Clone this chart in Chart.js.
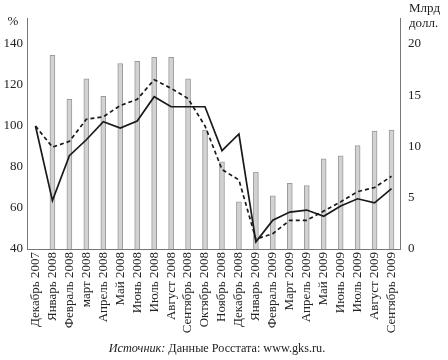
<!DOCTYPE html>
<html>
<head>
<meta charset="utf-8">
<script src="https://cdn.jsdelivr.net/npm/chart.js@4.4.1/dist/chart.umd.min.js"></script>
<style>
  html, body { margin: 0; padding: 0; background: #fff; }
  #wrap { width: 448px; height: 360px; }
</style>
</head>
<body>
<div id="wrap"><canvas id="chart" width="448" height="360"></canvas></div>
<script>
const months = ['Декабрь 2007', 'Январь 2008', 'Февраль 2008', 'март 2008', 'Апрель 2008', 'Май 2008',
  'Июнь 2008', 'Июль 2008', 'Август 2008', 'Сентябрь 2008', 'Октябрь 2008', 'Ноябрь 2008',
  'Декабрь 2008', 'Январь 2009', 'Февраль 2009', 'Март 2009', 'Апрель 2009', 'Май 2009',
  'Июнь 2009', 'Июль 2009', 'Август 2009', 'Сентябрь 2009']

// bars, billion dollars (right axis)
const barValues = [null, 18.9, 14.6, 16.6, 14.9, 18.1, 18.3, 18.7, 18.7, 16.6, 11.6, 8.5,
  4.6, 7.5, 5.2, 6.4, 6.2, 8.8, 9.1, 10.1, 11.5, 11.6]

// lines, percent (left axis)
const solidValues = [100, 63.6, 85.5, 93.3, 102.1, 99, 102.4, 114.3, 109.4, 109.4, 109.4, 88,
  96.1, 43.5, 54, 58, 59, 56, 61, 64.5, 62.5, 69.5]
const dashedValues = [100, 89.7, 92.5, 103.3, 104.5, 110, 113, 122.6, 118.4, 113.4, 100, 78.8,
  73.7, 44.8, 47.5, 54, 54, 58.5, 63, 68, 70, 75.5]

const leftTicks = [40, 60, 80, 100, 120, 140]
const rightTicks = [0, 5, 10, 15, 20]

const FONT = "'Liberation Serif', 'DejaVu Serif', serif"
const AXIS = '#777'
const TEXT = '#222'

// extra captions: units and source line
const captions = {
  id: 'captions',
  afterDraw(chart) {
    const ctx = chart.ctx
    ctx.save()
    ctx.fillStyle = TEXT
    ctx.textBaseline = 'middle'
    ctx.font = '13px ' + FONT
    ctx.textAlign = 'center'
    ctx.fillText('%', 13, 22)
    ctx.textAlign = 'left'
    ctx.fillText('Млрд', 409, 9)
    ctx.fillText('долл.', 409, 24)

    const italic = 'Источник:'
    const rest = ' Данные Росстата: www.gks.ru.'
    ctx.font = 'italic 12.2px ' + FONT
    const w1 = ctx.measureText(italic).width
    ctx.font = '12.2px ' + FONT
    const w2 = ctx.measureText(rest).width
    const x0 = 217 - (w1 + w2) / 2
    ctx.font = 'italic 12.2px ' + FONT
    ctx.fillText(italic, x0, 349)
    ctx.font = '12.2px ' + FONT
    ctx.fillText(rest, x0 + w1, 349)
    ctx.restore()
  }
}

new Chart(document.getElementById('chart'), {
  data: {
    labels: months,
    datasets: [
      {
        type: 'line',
        data: solidValues,
        yAxisID: 'y',
        borderColor: '#1a1a1a',
        borderWidth: 1.7,
        pointRadius: 0,
        tension: 0,
        order: 0
      },
      {
        type: 'line',
        data: dashedValues,
        yAxisID: 'y',
        borderColor: '#1a1a1a',
        borderWidth: 1.7,
        borderDash: [4, 3],
        pointRadius: 0,
        tension: 0,
        order: 0
      },
      {
        type: 'bar',
        data: barValues,
        yAxisID: 'y1',
        backgroundColor: '#d2d2d2',
        borderColor: '#9a9a9a',
        borderWidth: 1,
        barThickness: 5,
        order: 1
      }
    ]
  },
  options: {
    responsive: false,
    animation: false,
    events: [],
    layout: { padding: { top: 18, left: 0, right: 0, bottom: 0 } },
    plugins: {
      legend: { display: false },
      tooltip: { enabled: false }
    },
    scales: {
      x: {
        offset: true,
        grid: { display: false, drawTicks: false },
        border: { display: true, color: AXIS, width: 1 },
        afterFit: (scale) => { scale.height = 111 },
        ticks: {
          autoSkip: false,
          minRotation: 90,
          maxRotation: 90,
          padding: 3,
          color: TEXT,
          font: { family: FONT, size: 13 }
        }
      },
      y: {
        position: 'left',
        min: 40,
        max: 152.7,
        grid: { display: false, drawTicks: false },
        border: { display: true, color: AXIS, width: 1 },
        afterFit: (scale) => { scale.width = 27 },
        afterBuildTicks: (scale) => { scale.ticks = leftTicks.map(v => ({ value: v })) },
        ticks: {
          padding: 4,
          color: TEXT,
          font: { family: FONT, size: 13 }
        }
      },
      y1: {
        position: 'right',
        min: 0,
        max: 22.54,
        grid: { display: false, drawTicks: false },
        border: { display: true, color: AXIS, width: 1 },
        afterFit: (scale) => { scale.width = 48 },
        afterBuildTicks: (scale) => { scale.ticks = rightTicks.map(v => ({ value: v })) },
        ticks: {
          padding: 8,
          color: TEXT,
          font: { family: FONT, size: 13 }
        }
      }
    }
  },
  plugins: [captions]
})
</script>
</body>
</html>
